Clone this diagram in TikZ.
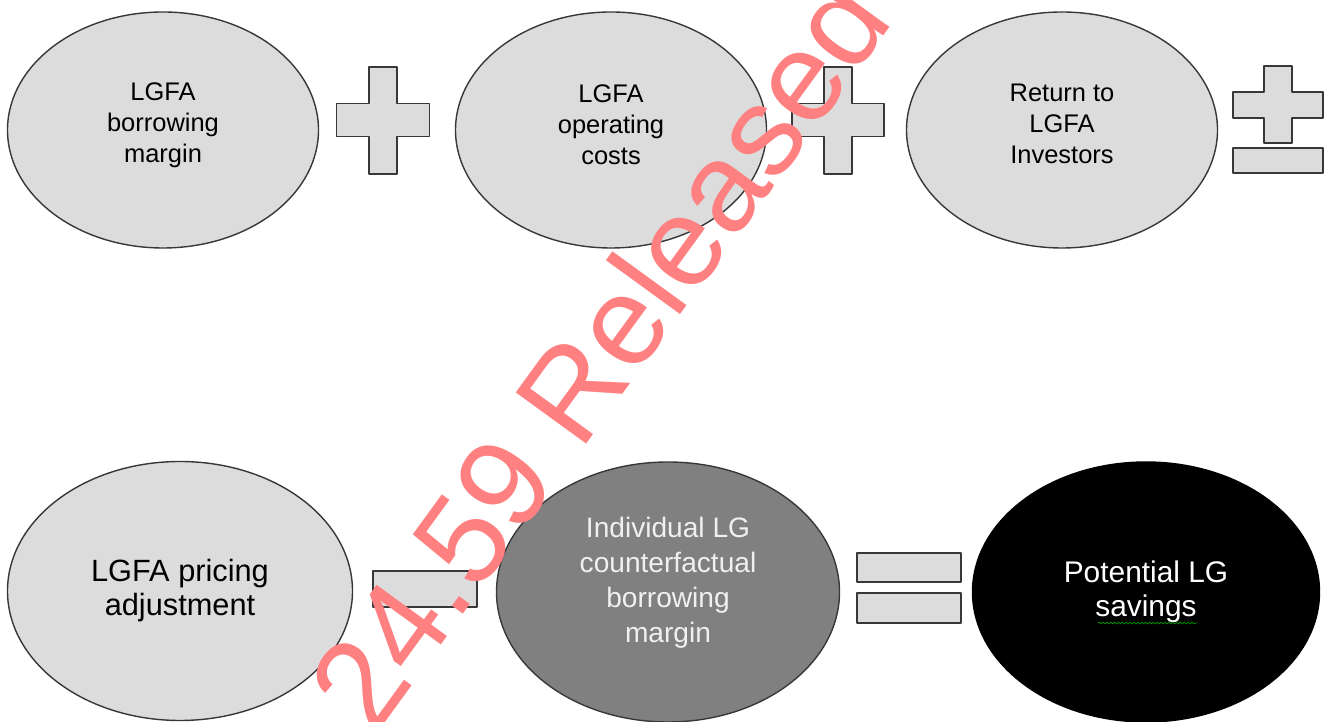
\documentclass[tikz,border=0pt]{standalone}
\usepackage{fontspec}
\setmainfont{Liberation Sans}
\usepackage{tikz}
\usetikzlibrary{shapes,positioning,calc,decorations.pathmorphing}
\definecolor{bubblegray}{HTML}{DCDCDC}
\definecolor{darkbubble}{HTML}{808080}
\definecolor{edgegray}{HTML}{383838}
\definecolor{stampred}{RGB}{255,128,128}
\tikzstyle{bubble} = [draw=edgegray, ellipse, line width=0.8pt, fill=bubblegray,
    minimum width=6.22cm, minimum height=4.72cm, inner sep=0pt, align=center,
    font=\fontsize{14.5}{17.6}\selectfont]
\tikzstyle{bigbubble} = [bubble, minimum width=6.9cm, minimum height=5.18cm,
    font=\fontsize{17.5}{19.4}\selectfont]
\tikzstyle{sign} = [draw=edgegray, line width=1.1pt, fill=bubblegray, line join=round]

\begin{document}
\begin{tikzpicture}
    \useasboundingbox (0,0) rectangle (26.5,14.44);

    % top row
    \node at (3.26,11.84) [bubble, text depth=8.5pt] (borrow) {LGFA\\ borrowing\\ margin};
    \node at (12.22,11.84) [bubble, text depth=6pt] (opcost) {LGFA\\ operating\\ costs};
    \node at (21.24,11.84) [bubble, text depth=7.5pt] (invest) {Return to\\ LGFA\\ Investors};

	\draw [sign, shift={(7.66,12.04)}] (-0.28,1.06) -- (0.28,1.06) -- (0.28,0.33) -- (0.93,0.33) -- (0.93,-0.33) -- (0.28,-0.33) -- (0.28,-1.08) -- (-0.28,-1.08) -- (-0.28,-0.33) -- (-0.93,-0.33) -- (-0.93,0.33) -- (-0.28,0.33) -- cycle;
	\draw [sign, shift={(16.76,12.04)}] (-0.28,1.06) -- (0.28,1.06) -- (0.28,0.33) -- (0.92,0.33) -- (0.92,-0.33) -- (0.28,-0.33) -- (0.28,-1.08) -- (-0.28,-1.08) -- (-0.28,-0.33) -- (-0.92,-0.33) -- (-0.92,0.33) -- (-0.28,0.33) -- cycle;
	\draw [sign, shift={(25.56,12.34)}] (-0.28,0.78) -- (0.28,0.78) -- (0.28,0.26) -- (0.90,0.26) -- (0.90,-0.26) -- (0.28,-0.26) -- (0.28,-0.76) -- (-0.28,-0.76) -- (-0.28,-0.26) -- (-0.90,-0.26) -- (-0.90,0.26) -- (-0.28,0.26) -- cycle;
	\draw [sign] (24.66,11.48) rectangle (26.46,10.98);

    % bottom row
    \node at (3.60,2.62) [bigbubble] (pricing) {LGFA pricing\\ adjustment};
    \node at (13.36,2.60) [bigbubble, fill=darkbubble, text=black!6, minimum width=6.86cm, minimum height=5.2cm,
        font=\fontsize{16}{20}\selectfont, text depth=14pt] (counter) {Individual LG\\ counterfactual\\ borrowing\\ margin};
    \node at (22.92,2.60) [bigbubble, fill=black, draw=black, text=white, minimum width=6.94cm, minimum height=5.2cm,
        font=\fontsize{17}{19.4}\selectfont] (savings) {Potential LG\\ savings};

	\draw [sign] (7.46,3.02) rectangle (9.54,2.30);
	\draw [sign] (17.14,3.38) rectangle (19.22,2.80);
	\draw [sign] (17.14,2.58) rectangle (19.22,1.98);

	\draw [green!60!black, line width=0.4pt, decorate, decoration={snake, amplitude=0.5pt, segment length=2.2pt}]
	    ($(savings.center) + (-0.96,-0.62)$) -- ($(savings.center) + (1.02,-0.62)$);

    % stamp over the picture
    \node at (11.96,7.40) [rotate=54, text=stampred, inner sep=0pt, font=\fontsize{72}{76}\selectfont] (stamp) {24.59 Released};
\end{tikzpicture}
\end{document}
